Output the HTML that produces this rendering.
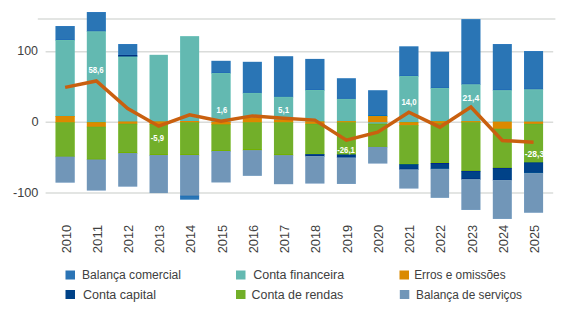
<!DOCTYPE html>
<html><head><meta charset="utf-8"><style>
html,body{margin:0;padding:0;background:#fff;width:586px;height:311px;overflow:hidden}
svg{display:block}
text{font-family:"Liberation Sans",sans-serif}
</style></head><body>
<svg width="586" height="311" viewBox="0 0 586 311">

<g stroke="#DADCDA" stroke-width="1.5">
<line x1="37.8" y1="19.1" x2="555.4" y2="19.1"/>
<line x1="45.6" y1="51.85" x2="553.2" y2="51.85"/>
<line x1="45.6" y1="122.35" x2="553.2" y2="122.35"/>
<line x1="45.6" y1="192.95" x2="553.2" y2="192.95"/>
</g>
<g fill="#404040" font-size="13">
<text x="17.24" y="55.2" textLength="20.77" lengthAdjust="spacingAndGlyphs">100</text>
<text x="31.5" y="125.9" textLength="7.13" lengthAdjust="spacingAndGlyphs">0</text>
<text x="12.9" y="196.6" textLength="25.53" lengthAdjust="spacingAndGlyphs">-100</text>
</g>
<defs><filter id="sh" x="0" y="0" width="586" height="311" filterUnits="userSpaceOnUse"><feConvolveMatrix order="3" kernelMatrix="0 -0.09 0 -0.09 1.36 -0.09 0 -0.09 0" preserveAlpha="true"/></filter></defs>
<g filter="url(#sh)">
<rect x="55.45" y="26" width="19.35" height="14.60" fill="#2B74B5"/>
<rect x="55.45" y="40" width="19.35" height="76.60" fill="#64B9B1"/>
<rect x="55.45" y="116" width="19.35" height="6.90" fill="#DA8A00"/>
<rect x="55.45" y="122.3" width="19.35" height="34.90" fill="#72AF29"/>
<rect x="55.45" y="156.6" width="19.35" height="26.10" fill="#7196B8"/>
<rect x="86.80" y="12" width="19.1" height="19.90" fill="#2B74B5"/>
<rect x="86.80" y="31.3" width="19.1" height="91.60" fill="#64B9B1"/>
<rect x="86.80" y="122.3" width="19.1" height="5.00" fill="#DA8A00"/>
<rect x="86.80" y="126.7" width="19.1" height="33.40" fill="#72AF29"/>
<rect x="86.80" y="159.5" width="19.1" height="31.10" fill="#7196B8"/>
<rect x="118.15" y="44" width="19.15" height="11.60" fill="#2B74B5"/>
<rect x="118.15" y="55" width="19.15" height="2.10" fill="#004288"/>
<rect x="118.15" y="56.5" width="19.15" height="65.60" fill="#64B9B1"/>
<rect x="118.15" y="121.5" width="19.15" height="2.80" fill="#DA8A00"/>
<rect x="118.15" y="123.7" width="19.15" height="30.00" fill="#72AF29"/>
<rect x="118.15" y="153.1" width="19.15" height="33.60" fill="#7196B8"/>
<rect x="149.50" y="54.8" width="18.45" height="67.20" fill="#64B9B1"/>
<rect x="149.50" y="121.4" width="18.45" height="3.20" fill="#DA8A00"/>
<rect x="149.50" y="124.0" width="18.45" height="31.70" fill="#72AF29"/>
<rect x="149.50" y="155.1" width="18.45" height="38.00" fill="#7196B8"/>
<rect x="180.06" y="36.1" width="19.1" height="85.50" fill="#64B9B1"/>
<rect x="180.06" y="121" width="19.1" height="1.90" fill="#DA8A00"/>
<rect x="180.06" y="122.3" width="19.1" height="33.40" fill="#72AF29"/>
<rect x="180.06" y="155.1" width="19.1" height="41.10" fill="#7196B8"/>
<rect x="180.06" y="195.6" width="19.1" height="4.10" fill="#2B74B5"/>
<rect x="211.35" y="60.8" width="19.35" height="12.80" fill="#2B74B5"/>
<rect x="211.35" y="73.0" width="19.35" height="49.40" fill="#64B9B1"/>
<rect x="211.35" y="121.8" width="19.35" height="3.20" fill="#DA8A00"/>
<rect x="211.35" y="124.4" width="19.35" height="27.20" fill="#72AF29"/>
<rect x="211.35" y="151" width="19.35" height="31.50" fill="#7196B8"/>
<rect x="242.80" y="61.8" width="19.1" height="31.70" fill="#2B74B5"/>
<rect x="242.80" y="92.9" width="19.1" height="25.40" fill="#64B9B1"/>
<rect x="242.80" y="117.7" width="19.1" height="5.20" fill="#DA8A00"/>
<rect x="242.80" y="122.3" width="19.1" height="28.50" fill="#72AF29"/>
<rect x="242.80" y="150.2" width="19.1" height="25.70" fill="#7196B8"/>
<rect x="273.95" y="56.2" width="19.25" height="41.20" fill="#2B74B5"/>
<rect x="273.95" y="96.8" width="19.25" height="23.40" fill="#64B9B1"/>
<rect x="273.95" y="119.6" width="19.25" height="3.30" fill="#DA8A00"/>
<rect x="273.95" y="122.3" width="19.25" height="33.50" fill="#72AF29"/>
<rect x="273.95" y="155.2" width="19.25" height="29.00" fill="#7196B8"/>
<rect x="305.20" y="58.9" width="19.3" height="31.70" fill="#2B74B5"/>
<rect x="305.20" y="90.0" width="19.3" height="32.00" fill="#64B9B1"/>
<rect x="305.20" y="121.4" width="19.3" height="3.00" fill="#DA8A00"/>
<rect x="305.20" y="123.8" width="19.3" height="31.00" fill="#72AF29"/>
<rect x="305.20" y="154.2" width="19.3" height="2.40" fill="#004288"/>
<rect x="305.20" y="156.0" width="19.3" height="27.60" fill="#7196B8"/>
<rect x="336.90" y="78.2" width="19.0" height="21.30" fill="#2B74B5"/>
<rect x="336.90" y="98.9" width="19.0" height="22.90" fill="#64B9B1"/>
<rect x="336.90" y="121.2" width="19.0" height="1.70" fill="#DA8A00"/>
<rect x="336.90" y="122.3" width="19.0" height="32.80" fill="#72AF29"/>
<rect x="336.90" y="154.5" width="19.0" height="3.50" fill="#004288"/>
<rect x="336.90" y="157.4" width="19.0" height="26.60" fill="#7196B8"/>
<rect x="368.06" y="90.2" width="19.35" height="26.50" fill="#2B74B5"/>
<rect x="368.06" y="116.1" width="19.35" height="6.80" fill="#DA8A00"/>
<rect x="368.06" y="122.3" width="19.35" height="1.90" fill="#64B9B1"/>
<rect x="368.06" y="123.6" width="19.35" height="23.80" fill="#72AF29"/>
<rect x="368.06" y="146.8" width="19.35" height="16.80" fill="#7196B8"/>
<rect x="399.20" y="46.3" width="19.3" height="30.30" fill="#2B74B5"/>
<rect x="399.20" y="76.0" width="19.3" height="46.90" fill="#64B9B1"/>
<rect x="399.20" y="122.3" width="19.3" height="3.50" fill="#DA8A00"/>
<rect x="399.20" y="125.2" width="19.3" height="39.70" fill="#72AF29"/>
<rect x="399.20" y="164.3" width="19.3" height="5.60" fill="#004288"/>
<rect x="399.20" y="169.3" width="19.3" height="19.30" fill="#7196B8"/>
<rect x="430.60" y="51.7" width="18.5" height="36.90" fill="#2B74B5"/>
<rect x="430.60" y="88.0" width="18.5" height="33.80" fill="#64B9B1"/>
<rect x="430.60" y="121.2" width="18.5" height="2.80" fill="#DA8A00"/>
<rect x="430.60" y="123.4" width="18.5" height="40.20" fill="#72AF29"/>
<rect x="430.60" y="163" width="18.5" height="6.30" fill="#004288"/>
<rect x="430.60" y="168.7" width="18.5" height="29.20" fill="#7196B8"/>
<rect x="461.30" y="19.1" width="19.2" height="65.80" fill="#2B74B5"/>
<rect x="461.30" y="84.3" width="19.2" height="37.50" fill="#64B9B1"/>
<rect x="461.30" y="121.2" width="19.2" height="1.70" fill="#DA8A00"/>
<rect x="461.30" y="122.3" width="19.2" height="49.20" fill="#72AF29"/>
<rect x="461.30" y="170.9" width="19.2" height="8.80" fill="#004288"/>
<rect x="461.30" y="179.1" width="19.2" height="30.90" fill="#7196B8"/>
<rect x="492.80" y="44" width="19.05" height="46.80" fill="#2B74B5"/>
<rect x="492.80" y="90.2" width="19.05" height="32.00" fill="#64B9B1"/>
<rect x="492.80" y="121.6" width="19.05" height="7.70" fill="#DA8A00"/>
<rect x="492.80" y="128.7" width="19.05" height="39.80" fill="#72AF29"/>
<rect x="492.80" y="167.9" width="19.05" height="12.60" fill="#004288"/>
<rect x="492.80" y="179.9" width="19.05" height="39.10" fill="#7196B8"/>
<rect x="524.00" y="51" width="19.1" height="38.90" fill="#2B74B5"/>
<rect x="524.00" y="89.3" width="19.1" height="32.90" fill="#64B9B1"/>
<rect x="524.00" y="121.6" width="19.1" height="2.80" fill="#DA8A00"/>
<rect x="524.00" y="123.8" width="19.1" height="39.20" fill="#72AF29"/>
<rect x="524.00" y="162.4" width="19.1" height="11.00" fill="#004288"/>
<rect x="524.00" y="172.8" width="19.1" height="40.00" fill="#7196B8"/>
</g>
<polyline points="65.12,87.4 96.35,81.0 127.73,108.5 158.72,126.2 189.61,114.9 221.03,121.3 252.35,115.9 283.57,118.2 314.85,120.1 346.40,140.2 377.74,132.2 408.85,112.2 439.85,127.2 470.90,107.0 502.32,140.5 533.55,142.2" fill="none" stroke="#C9600F" stroke-width="3.5" stroke-linejoin="miter"/>
<g fill="#fff" font-size="9" font-weight="bold">
<text x="88.4" y="73.1" textLength="15.29" lengthAdjust="spacingAndGlyphs">58,6</text>
<text x="150.8" y="141" textLength="13.29" lengthAdjust="spacingAndGlyphs">-5,9</text>
<text x="216.6" y="113.3" textLength="10.49" lengthAdjust="spacingAndGlyphs">1,6</text>
<text x="278.0" y="113.3" textLength="11.07" lengthAdjust="spacingAndGlyphs">5,1</text>
<text x="337.2" y="153.3" textLength="17.68" lengthAdjust="spacingAndGlyphs">-26,1</text>
<text x="401.4" y="105" textLength="15.19" lengthAdjust="spacingAndGlyphs">14,0</text>
<text x="462.5" y="101.1" textLength="16.65" lengthAdjust="spacingAndGlyphs">21,4</text>
<text x="524.7" y="157" textLength="19.59" lengthAdjust="spacingAndGlyphs">-28,3</text>
</g>
<g fill="#404040" font-size="13">
<text transform="translate(70.72,253.3) rotate(-90)" textLength="28.52" lengthAdjust="spacingAndGlyphs">2010</text>
<text transform="translate(101.95,253.3) rotate(-90)" textLength="28.52" lengthAdjust="spacingAndGlyphs">2011</text>
<text transform="translate(133.33,253.3) rotate(-90)" textLength="28.52" lengthAdjust="spacingAndGlyphs">2012</text>
<text transform="translate(164.32,253.3) rotate(-90)" textLength="28.52" lengthAdjust="spacingAndGlyphs">2013</text>
<text transform="translate(195.21,253.3) rotate(-90)" textLength="28.52" lengthAdjust="spacingAndGlyphs">2014</text>
<text transform="translate(226.62,253.3) rotate(-90)" textLength="28.52" lengthAdjust="spacingAndGlyphs">2015</text>
<text transform="translate(257.95,253.3) rotate(-90)" textLength="28.52" lengthAdjust="spacingAndGlyphs">2016</text>
<text transform="translate(289.18,253.3) rotate(-90)" textLength="28.52" lengthAdjust="spacingAndGlyphs">2017</text>
<text transform="translate(320.45,253.3) rotate(-90)" textLength="28.52" lengthAdjust="spacingAndGlyphs">2018</text>
<text transform="translate(352.00,253.3) rotate(-90)" textLength="28.52" lengthAdjust="spacingAndGlyphs">2019</text>
<text transform="translate(383.34,253.3) rotate(-90)" textLength="28.52" lengthAdjust="spacingAndGlyphs">2020</text>
<text transform="translate(414.45,253.3) rotate(-90)" textLength="28.52" lengthAdjust="spacingAndGlyphs">2021</text>
<text transform="translate(445.45,253.3) rotate(-90)" textLength="28.52" lengthAdjust="spacingAndGlyphs">2022</text>
<text transform="translate(476.50,253.3) rotate(-90)" textLength="28.52" lengthAdjust="spacingAndGlyphs">2023</text>
<text transform="translate(507.93,253.3) rotate(-90)" textLength="28.52" lengthAdjust="spacingAndGlyphs">2024</text>
<text transform="translate(539.15,253.3) rotate(-90)" textLength="28.52" lengthAdjust="spacingAndGlyphs">2025</text>
</g>
<g fill="#404040" font-size="12.5">
<rect x="65.5" y="270.5" width="9.5" height="9" fill="#2B74B5"/>
<text x="81.93" y="278.7" textLength="99.11" lengthAdjust="spacingAndGlyphs">Balança comercial</text>
<rect x="236" y="270.5" width="9.5" height="9" fill="#64B9B1"/>
<text x="253.2" y="278.7" textLength="91.03" lengthAdjust="spacingAndGlyphs">Conta financeira</text>
<rect x="399.5" y="270.5" width="9.5" height="9" fill="#DA8A00"/>
<text x="414.15" y="278.7" textLength="91.48" lengthAdjust="spacingAndGlyphs">Erros e omissões</text>
<rect x="65.5" y="290" width="9.5" height="9" fill="#004288"/>
<text x="82.9" y="298.7" textLength="73.17" lengthAdjust="spacingAndGlyphs">Conta capital</text>
<rect x="236" y="290" width="9.5" height="9" fill="#72AF29"/>
<text x="251.6" y="298.7" textLength="91.63" lengthAdjust="spacingAndGlyphs">Conta de rendas</text>
<rect x="399.8" y="290" width="9.5" height="9" fill="#7196B8"/>
<text x="416.05" y="298.7" textLength="105.93" lengthAdjust="spacingAndGlyphs">Balança de serviços</text>
</g>
</svg>
</body></html>
